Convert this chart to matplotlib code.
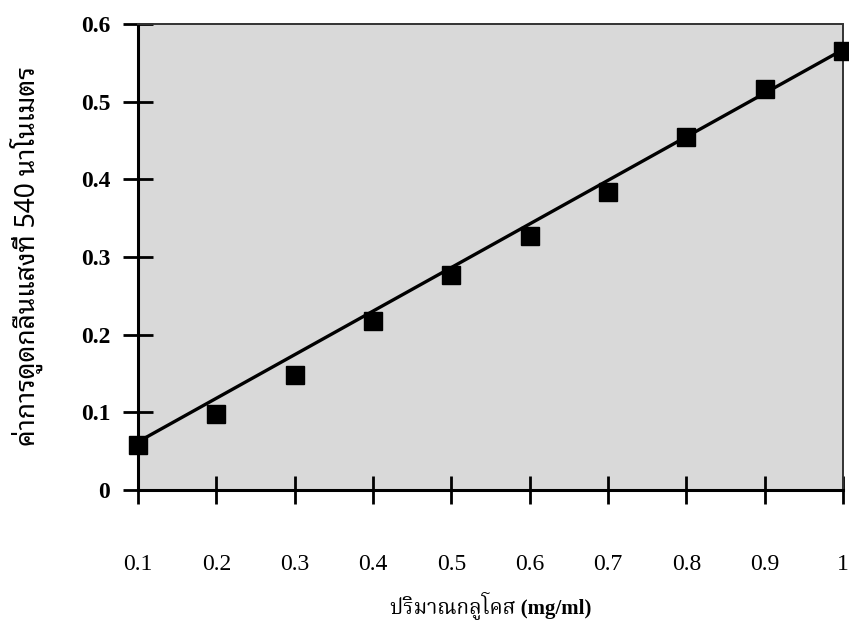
import matplotlib
matplotlib.use("Agg")
import matplotlib.pyplot as plt
import numpy as np

# data
glucose = [0.1, 0.2, 0.3, 0.4, 0.5, 0.6, 0.7, 0.8, 0.9, 1.0]
absorbance = [0.058, 0.098, 0.148, 0.217, 0.277, 0.327, 0.384, 0.455, 0.516, 0.565]
trend_x = [0.1, 1.0]
trend_y = [0.062, 0.567]
x_ticks = [0.1, 0.2, 0.3, 0.4, 0.5, 0.6, 0.7, 0.8, 0.9, 1.0]
x_tick_labels = ["0.1", "0.2", "0.3", "0.4", "0.5", "0.6", "0.7", "0.8", "0.9", "1"]
y_ticks = [0, 0.1, 0.2, 0.3, 0.4, 0.5, 0.6]
y_tick_labels = ["0", "0.1", "0.2", "0.3", "0.4", "0.5", "0.6"]
x_label = "ปริมาณกลูโคส (mg/ml)"
y_label = "ค่าการดูดกลืนแสงที่ 540 นาโนเมตร"

fig = plt.figure(figsize=(8.49, 6.25), dpi=100)
ax = fig.add_axes([138/849, 1-490/625, (843-138)/849, (490-24)/625])
ax.set_facecolor("#d9d9d9")

ax.plot(trend_x, trend_y, color="black", lw=2.4, solid_capstyle="butt", zorder=3, clip_on=False)
ax.plot(glucose, absorbance, linestyle="none", marker="s", ms=12.5, color="black",
        zorder=4, clip_on=False)

ax.set_xlim(0.1, 1.0)
ax.set_ylim(0, 0.6)
ax.set_xticks(x_ticks)
ax.set_xticklabels(x_tick_labels, family="Liberation Serif", fontsize=17)
ax.set_yticks(y_ticks)
ax.set_yticklabels(y_tick_labels, family="Liberation Serif", fontsize=17, fontweight="bold")

ax.tick_params(axis="x", direction="inout", length=20, width=2, pad=36, colors="black")
ax.tick_params(axis="y", direction="inout", length=22, width=2, pad=9, colors="black")

for s in ["left", "bottom"]:
    ax.spines[s].set_linewidth(2.2)
    ax.spines[s].set_color("black")
for s in ["top", "right"]:
    ax.spines[s].set_linewidth(1.4)
    ax.spines[s].set_color("#333333")
    ax.spines[s].set_linestyle((0, (1, 1)))

fig.text(491/849, 1-605/625, x_label, ha="center", va="center", fontsize=15,
         family=["Liberation Serif", "Noto Serif Thai"], fontweight="bold")
fig.text(26/849, 1-256/625, y_label, ha="center", va="center", rotation=90, fontsize=19,
         family=["Noto Sans Thai Looped", "DejaVu Sans"], fontweight="medium")

fig.savefig("out.png", dpi=100)
